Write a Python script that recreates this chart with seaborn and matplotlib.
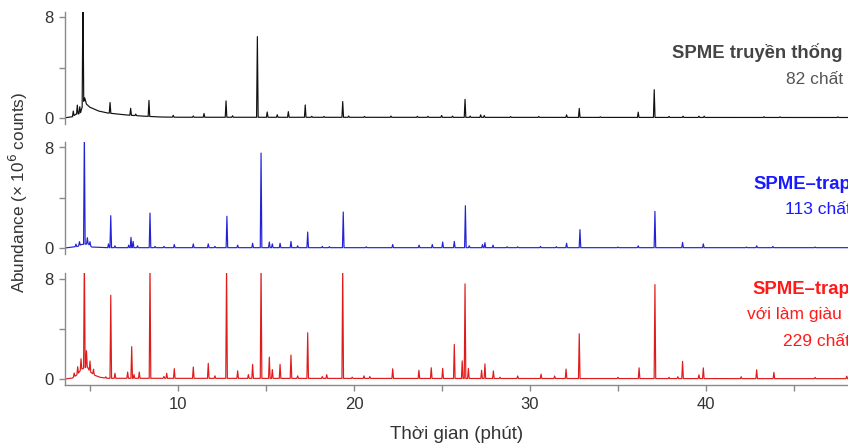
import numpy as np
import pandas as pd
import matplotlib
matplotlib.use("Agg")
import matplotlib.pyplot as plt
import seaborn as sns

# ---------------- data (retention time in min, abundance in 10^6 counts) ----------------
trad_rt = [4.05, 4.28, 4.42, 4.60, 6.14, 7.31, 7.60, 8.35, 9.73, 10.87, 11.48, 12.73, 13.10,
           14.51, 15.07, 15.64, 16.27, 17.23, 17.60, 18.30, 19.36, 19.70, 20.60, 22.10, 23.60,
           24.20, 24.98, 25.60, 26.31, 26.60, 27.20, 27.40, 28.90, 30.50, 32.08, 32.80, 34.00,
           36.15, 37.06, 37.90, 38.70, 39.60, 39.90, 43.30, 44.20, 47.50]
trad_h = [0.40, 0.71, 0.55, 9.00, 0.85, 0.55, 0.12, 1.27, 0.15, 0.10, 0.30, 1.30, 0.12,
          6.40, 0.42, 0.20, 0.45, 0.98, 0.08, 0.07, 1.25, 0.10, 0.07, 0.10, 0.08,
          0.08, 0.15, 0.10, 1.43, 0.10, 0.20, 0.15, 0.06, 0.07, 0.20, 0.71, 0.05,
          0.42, 2.20, 0.08, 0.10, 0.10, 0.10, 0.06, 0.05, 0.05]
trad_base_t = [3.6, 4.0, 4.2, 4.45, 4.70, 4.80, 5.0, 5.5, 6.0, 7.0, 8.0, 9.0, 10.0, 48.1]
trad_base_y = [0.02, 0.10, 0.30, 0.35, 1.60, 1.10, 0.85, 0.55, 0.40, 0.25, 0.15, 0.08, 0.06, 0.04]

trap_rt = [4.20, 4.40, 4.68, 4.85, 5.00, 6.05, 6.18, 6.42, 7.20, 7.33, 7.45, 7.70, 8.41, 8.70,
           9.20, 9.79, 10.87, 11.72, 12.10, 12.78, 13.39, 14.24, 14.72, 15.19, 15.36, 15.80,
           16.42, 16.80, 17.37, 18.20, 18.60, 19.39, 20.70, 22.20, 23.70, 24.45, 25.04, 25.70,
           26.33, 26.55, 27.30, 27.44, 27.90, 28.70, 29.30, 30.60, 31.50, 32.08, 32.84, 35.00,
           36.15, 37.10, 38.67, 39.85, 42.30, 42.88, 43.80, 46.20]
trap_h = [0.20, 0.30, 9.00, 0.50, 0.30, 0.30, 2.54, 0.15, 0.20, 0.82, 0.50, 0.15, 2.75, 0.10,
          0.10, 0.25, 0.30, 0.30, 0.10, 2.49, 0.20, 0.35, 7.51, 0.45, 0.30, 0.35,
          0.50, 0.15, 1.24, 0.10, 0.08, 2.83, 0.07, 0.25, 0.20, 0.25, 0.45, 0.50,
          3.33, 0.15, 0.25, 0.40, 0.20, 0.07, 0.07, 0.10, 0.08, 0.35, 1.43, 0.05,
          0.15, 2.88, 0.42, 0.30, 0.05, 0.15, 0.10, 0.05]
trap_base_t = [3.6, 4.3, 4.5, 4.9, 5.1, 6.0, 48.1]
trap_base_y = [0.03, 0.15, 0.30, 0.35, 0.10, 0.05, 0.05]

enr_rt = [4.10, 4.30, 4.49, 4.68, 4.80, 5.00, 5.20, 5.90, 6.18, 6.42, 7.14, 7.37, 7.50, 7.80,
          8.41, 9.20, 9.36, 9.79, 10.87, 11.72, 12.10, 12.76, 13.39, 14.00, 14.24, 14.72,
          15.19, 15.36, 15.80, 16.42, 16.80, 17.37, 18.20, 18.45, 19.36, 19.90, 20.57, 20.90,
          22.20, 23.69, 24.39, 25.04, 25.70, 26.15, 26.31, 26.50, 27.25, 27.44, 27.92, 28.30,
          29.30, 30.63, 31.40, 32.05, 32.80, 35.00, 36.20, 37.10, 37.90, 38.40, 38.67, 39.60,
          39.85, 42.00, 42.88, 43.86, 46.20, 48.00]
enr_h = [0.30, 0.60, 0.85, 9.00, 1.30, 0.85, 0.40, 0.10, 6.59, 0.40, 0.50, 2.51, 0.30, 0.50,
         9.00, 0.15, 0.40, 0.77, 0.90, 1.19, 0.20, 9.00, 0.60, 0.30, 1.11, 9.00,
         1.69, 0.70, 1.11, 1.85, 0.20, 3.62, 0.15, 0.30, 9.00, 0.10, 0.20, 0.15,
         0.77, 0.65, 0.85, 0.80, 2.70, 1.40, 7.51, 0.80, 0.65, 1.16, 0.60, 0.10,
         0.20, 0.35, 0.20, 0.75, 3.55, 0.10, 0.85, 7.46, 0.10, 0.15, 1.37, 0.30,
         0.85, 0.15, 0.70, 0.50, 0.10, 0.20]
enr_base_t = [3.6, 4.0, 4.3, 4.5, 4.85, 5.0, 5.3, 5.6, 6.0, 48.1]
enr_base_y = [0.03, 0.10, 0.40, 0.80, 1.00, 0.60, 0.30, 0.15, 0.08, 0.05]

x_ticks = [5, 10, 15, 20, 25, 30, 35, 40, 45]
x_labels = ["", "10", "", "20", "", "30", "", "40", ""]
y_ticks = [0, 4, 8]
y_labels = ["0", "", "8"]

# ---------------- style ----------------
sns.set_style("ticks")
plt.rcParams["font.family"] = ["Liberation Sans", "DejaVu Sans"]

HALF_W = 0.045


def trace(rt, h, bt, by):
    """Build a chromatogram polyline: baseline knots plus a narrow spike per peak."""
    rt = np.asarray(rt, float)
    h = np.asarray(h, float)
    bt = np.asarray(bt, float)
    by = np.asarray(by, float)
    keep = np.array([np.all(np.abs(rt - t) > HALF_W * 1.2) for t in bt])
    ts = list(bt[keep])
    ys = list(by[keep])
    for t, v in zip(rt, h):
        b = np.interp(t, bt, by)
        ts += [t - HALF_W, t, t + HALF_W]
        ys += [np.interp(t - HALF_W, bt, by), b + v, np.interp(t + HALF_W, bt, by)]
    order = np.argsort(ts, kind="stable")
    return pd.DataFrame({"t": np.asarray(ts)[order], "y": np.asarray(ys)[order]})


W, H = 848, 446
fig = plt.figure(figsize=(W / 100, H / 100), dpi=100)

left = 65 / W
width = 1 - left
ylo, yhi = -0.45, 8.4
ax_h = (yhi - ylo) * 12.6
zero_px = [118, 248.3, 379.3]

series = [
    (trad_rt, trad_h, trad_base_t, trad_base_y, "#111111"),
    (trap_rt, trap_h, trap_base_t, trap_base_y, "#2323d6"),
    (enr_rt, enr_h, enr_base_t, enr_base_y, "#e01b1b"),
]

spine_c = "#8a8a8a"
tick_c = "#333333"
for k, (rt, h, bt, by, col) in enumerate(series):
    bottom_px = zero_px[k] - ylo * 12.6
    ax = fig.add_axes([left, 1 - bottom_px / H, width, ax_h / H])
    df = trace(rt, h, bt, by)
    sns.lineplot(data=df, x="t", y="y", ax=ax, color=col, linewidth=0.85,
                 estimator=None, sort=False)
    ax.set_xlim(3.58, 48.07)
    ax.set_ylim(ylo, yhi)
    ax.set_xlabel("")
    ax.set_ylabel("")
    ax.set_yticks(y_ticks)
    ax.set_yticklabels(y_labels, fontsize=12, color=tick_c)
    ax.spines["top"].set_visible(False)
    ax.spines["right"].set_visible(False)
    ax.spines["left"].set_color(spine_c)
    ax.spines["left"].set_linewidth(1.0)
    ax.tick_params(axis="y", colors=spine_c, labelcolor=tick_c, length=4, width=1.0, pad=4)
    ax.patch.set_alpha(0)
    if k < 2:
        ax.spines["bottom"].set_visible(False)
        ax.set_xticks([])
    else:
        ax.spines["bottom"].set_color(spine_c)
        ax.spines["bottom"].set_linewidth(1.0)
        ax.set_xticks(x_ticks)
        ax.set_xticklabels(x_labels, fontsize=12, color=tick_c)
        ax.tick_params(axis="x", colors=spine_c, labelcolor=tick_c, length=4, width=1.0, pad=5)
        ax.set_xlabel("Thời gian (phút)", fontsize=13.5, color=tick_c, labelpad=10)

fig.text(18 / W, 1 - 192 / H, "Abundance (× 10$^6$ counts)", rotation=90,
         ha="center", va="center", fontsize=12.3, color=tick_c)


def ftxt(x, y, s, color, bold=False, ha="left", size=12.5):
    fig.text(x / W, 1 - y / H, s, ha=ha, va="center", color=color,
             fontsize=size, fontweight="bold" if bold else "normal")


ftxt(843, 53, "SPME truyền thống", "#444444", bold=True, ha="right", size=13.3)
ftxt(843, 79, "82 chất", "#555555", ha="right")
ftxt(753, 184, "SPME–trap", "#1a1aff", bold=True, size=13.3)
ftxt(785, 210, "113 chất", "#1a1aff")
ftxt(752, 290, "SPME–trap", "#ff1a1a", bold=True, size=13.3)
ftxt(747, 315, "với làm giàu", "#ff1a1a")
ftxt(783, 341, "229 chất", "#ff1a1a")

fig.savefig("out.png", dpi=100)
